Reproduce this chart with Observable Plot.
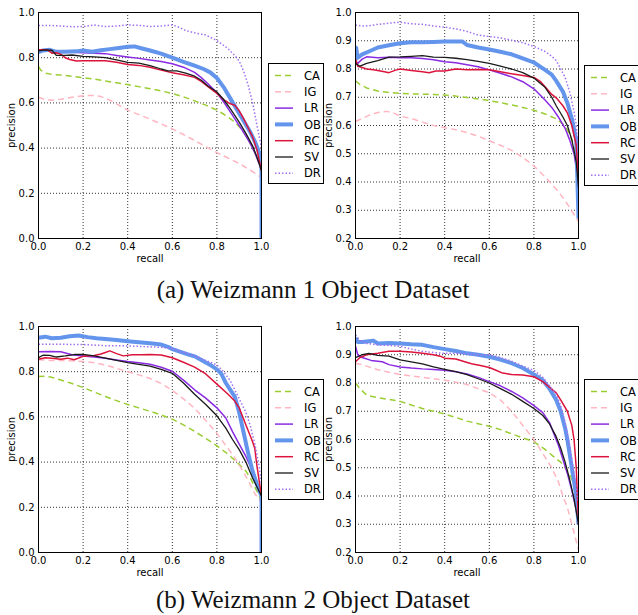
<!DOCTYPE html>
<html><head><meta charset="utf-8">
<script src="https://cdn.jsdelivr.net/npm/d3@7"></script>
<script src="https://cdn.jsdelivr.net/npm/@observablehq/plot@0.6"></script>
<style>
body{margin:0;background:#fff;}
#root{position:relative;width:638px;height:615px;overflow:hidden;background:#fff;}
.panel{position:absolute;}
.legend{position:absolute;background:#fff;border:1px solid #000;box-sizing:border-box;}
.cap{position:absolute;left:-6px;width:638px;text-align:center;font-family:"Liberation Serif","Times New Roman",serif;font-size:25px;line-height:28px;color:#111;}
</style></head>
<body><div id="root"></div>
<script>
// ---- series names & styles ----
const methods = ["CA","IG","LR","OB","RC","SV","DR"];
const colors = ["#9acd32","#ffb6c1","#8a2be2","#6495ed","#dc143c","#1a1a1a","#a070f0"];
const xTicks = [0,0.2,0.4,0.6,0.8,1.0];
const yTicksFull = [0,0.2,0.4,0.6,0.8,1.0];
const yTicksHigh = [0.2,0.3,0.4,0.5,0.6,0.7,0.8,0.9,1.0];
const captions = ["(a) Weizmann 1 Object Dataset","(b) Weizmann 2 Object Dataset"];

// ---- Weizmann 1, left panel: [recall, precision] ----
const w1a_CA = [[0,0.76],[0.01,0.745],[0.03,0.732],[0.06,0.726],[0.1,0.723],[0.15,0.718],[0.2,0.712],[0.25,0.705],[0.3,0.697],[0.35,0.689],[0.4,0.681],[0.45,0.672],[0.5,0.663],[0.55,0.653],[0.6,0.642],[0.65,0.627],[0.7,0.609],[0.75,0.59],[0.8,0.568],[0.85,0.538],[0.88,0.515],[0.9,0.495],[0.93,0.455],[0.95,0.42],[0.97,0.38],[0.99,0.33],[1.0,0.3]];
const w1a_IG = [[0,0.625],[0.03,0.615],[0.06,0.612],[0.1,0.616],[0.15,0.625],[0.2,0.632],[0.25,0.633],[0.28,0.628],[0.32,0.612],[0.36,0.59],[0.4,0.568],[0.45,0.548],[0.5,0.528],[0.55,0.507],[0.6,0.485],[0.65,0.46],[0.7,0.434],[0.75,0.406],[0.8,0.38],[0.85,0.356],[0.9,0.332],[0.95,0.302],[1.0,0.27]];
const w1a_LR = [[0,0.832],[0.03,0.835],[0.06,0.828],[0.1,0.826],[0.15,0.824],[0.2,0.822],[0.25,0.82],[0.3,0.818],[0.35,0.81],[0.4,0.803],[0.45,0.797],[0.5,0.79],[0.55,0.783],[0.6,0.773],[0.65,0.758],[0.7,0.735],[0.73,0.712],[0.76,0.685],[0.8,0.645],[0.83,0.605],[0.86,0.56],[0.89,0.515],[0.92,0.47],[0.95,0.42],[0.97,0.38],[0.99,0.33],[1.0,0.3],[1.0,0.28]];
const w1a_OB = [[0,0.825],[0.02,0.832],[0.05,0.835],[0.08,0.826],[0.12,0.826],[0.17,0.828],[0.2,0.832],[0.24,0.826],[0.28,0.833],[0.32,0.838],[0.36,0.843],[0.4,0.848],[0.43,0.85],[0.46,0.842],[0.5,0.832],[0.55,0.818],[0.6,0.8],[0.65,0.782],[0.7,0.765],[0.74,0.75],[0.77,0.735],[0.8,0.71],[0.83,0.67],[0.86,0.62],[0.89,0.57],[0.92,0.52],[0.95,0.47],[0.97,0.43],[0.99,0.38],[1.0,0.35],[1.0,0.0]];
const w1a_RC = [[0,0.835],[0.04,0.835],[0.06,0.82],[0.08,0.822],[0.1,0.815],[0.12,0.8],[0.14,0.792],[0.17,0.785],[0.2,0.787],[0.25,0.786],[0.3,0.786],[0.35,0.78],[0.4,0.77],[0.45,0.766],[0.5,0.758],[0.55,0.745],[0.6,0.733],[0.65,0.725],[0.7,0.713],[0.73,0.695],[0.76,0.672],[0.8,0.642],[0.83,0.615],[0.86,0.596],[0.88,0.59],[0.9,0.565],[0.92,0.53],[0.94,0.49],[0.96,0.45],[0.98,0.39],[1.0,0.3]];
const w1a_SV = [[0,0.83],[0.03,0.835],[0.06,0.833],[0.08,0.81],[0.12,0.81],[0.15,0.812],[0.2,0.806],[0.25,0.804],[0.3,0.8],[0.35,0.79],[0.4,0.779],[0.45,0.776],[0.5,0.765],[0.55,0.75],[0.58,0.742],[0.62,0.742],[0.66,0.732],[0.7,0.718],[0.73,0.7],[0.76,0.675],[0.8,0.648],[0.83,0.615],[0.86,0.575],[0.9,0.515],[0.93,0.465],[0.96,0.41],[0.98,0.36],[1.0,0.3],[1.0,0.28]];
const w1a_DR = [[0,0.942],[0.05,0.943],[0.1,0.94],[0.15,0.937],[0.2,0.938],[0.25,0.945],[0.3,0.938],[0.35,0.94],[0.4,0.945],[0.45,0.943],[0.5,0.938],[0.55,0.94],[0.6,0.945],[0.63,0.935],[0.66,0.92],[0.7,0.91],[0.75,0.9],[0.8,0.876],[0.85,0.84],[0.88,0.81],[0.9,0.785],[0.92,0.74],[0.94,0.68],[0.96,0.6],[0.98,0.5],[1.0,0.4]];

// ---- Weizmann 1, right panel ----
const w1b_CA = [[0,0.758],[0.02,0.745],[0.05,0.733],[0.1,0.722],[0.15,0.717],[0.2,0.714],[0.25,0.712],[0.3,0.711],[0.35,0.71],[0.4,0.708],[0.45,0.704],[0.5,0.699],[0.55,0.694],[0.6,0.688],[0.65,0.681],[0.7,0.673],[0.75,0.664],[0.8,0.654],[0.85,0.641],[0.9,0.624],[0.93,0.605],[0.95,0.585],[0.97,0.55],[0.99,0.49],[1.0,0.43]];
const w1b_IG = [[0,0.614],[0.03,0.625],[0.06,0.636],[0.1,0.646],[0.14,0.65],[0.17,0.645],[0.2,0.633],[0.25,0.625],[0.3,0.612],[0.35,0.6],[0.4,0.592],[0.45,0.585],[0.5,0.575],[0.55,0.562],[0.6,0.546],[0.65,0.53],[0.7,0.512],[0.75,0.487],[0.8,0.457],[0.85,0.418],[0.9,0.375],[0.93,0.345],[0.96,0.31],[0.98,0.285],[1.0,0.26]];
const w1b_LR = [[0,0.83],[0.01,0.82],[0.03,0.835],[0.05,0.843],[0.1,0.84],[0.15,0.842],[0.2,0.84],[0.25,0.84],[0.3,0.837],[0.35,0.833],[0.4,0.826],[0.45,0.822],[0.5,0.815],[0.55,0.808],[0.6,0.797],[0.65,0.785],[0.7,0.772],[0.75,0.755],[0.8,0.73],[0.85,0.69],[0.88,0.664],[0.91,0.63],[0.94,0.59],[0.96,0.55],[0.98,0.5],[0.99,0.45],[1.0,0.38]];
const w1b_OB = [[0,0.83],[0.003,0.875],[0.01,0.84],[0.03,0.852],[0.06,0.862],[0.1,0.876],[0.15,0.884],[0.2,0.891],[0.25,0.895],[0.3,0.895],[0.35,0.896],[0.4,0.897],[0.45,0.897],[0.48,0.897],[0.5,0.885],[0.55,0.876],[0.6,0.869],[0.65,0.861],[0.7,0.852],[0.75,0.838],[0.8,0.823],[0.85,0.797],[0.88,0.78],[0.9,0.758],[0.93,0.72],[0.95,0.68],[0.97,0.625],[0.99,0.55],[1.0,0.27]];
const w1b_RC = [[0,0.835],[0.01,0.81],[0.03,0.805],[0.05,0.8],[0.08,0.797],[0.1,0.795],[0.13,0.79],[0.15,0.787],[0.18,0.796],[0.2,0.8],[0.25,0.795],[0.3,0.79],[0.33,0.787],[0.36,0.793],[0.4,0.793],[0.45,0.8],[0.5,0.797],[0.55,0.798],[0.6,0.797],[0.65,0.79],[0.7,0.783],[0.75,0.777],[0.8,0.77],[0.83,0.755],[0.86,0.728],[0.88,0.71],[0.9,0.698],[0.93,0.67],[0.95,0.645],[0.97,0.6],[0.99,0.53],[1.0,0.4]];
const w1b_SV = [[0,0.82],[0.02,0.81],[0.05,0.82],[0.1,0.83],[0.15,0.842],[0.2,0.843],[0.25,0.845],[0.3,0.847],[0.35,0.842],[0.4,0.841],[0.45,0.838],[0.5,0.833],[0.55,0.827],[0.6,0.82],[0.65,0.81],[0.7,0.8],[0.75,0.787],[0.8,0.768],[0.85,0.735],[0.88,0.7],[0.9,0.67],[0.93,0.63],[0.95,0.6],[0.97,0.55],[0.99,0.47],[1.0,0.38]];
const w1b_DR = [[0,0.956],[0.03,0.952],[0.06,0.953],[0.1,0.958],[0.15,0.962],[0.2,0.966],[0.25,0.96],[0.3,0.958],[0.35,0.952],[0.4,0.948],[0.45,0.942],[0.5,0.933],[0.55,0.92],[0.6,0.915],[0.65,0.91],[0.7,0.902],[0.75,0.893],[0.8,0.88],[0.85,0.862],[0.88,0.845],[0.9,0.83],[0.92,0.8],[0.94,0.77],[0.96,0.72],[0.98,0.65],[0.99,0.6],[1.0,0.5]];

// ---- Weizmann 2, left panel ----
const w2a_CA = [[0,0.779],[0.03,0.78],[0.06,0.775],[0.1,0.763],[0.15,0.748],[0.2,0.73],[0.25,0.71],[0.3,0.69],[0.35,0.672],[0.4,0.655],[0.45,0.64],[0.5,0.625],[0.55,0.609],[0.6,0.59],[0.65,0.565],[0.7,0.536],[0.75,0.505],[0.8,0.472],[0.85,0.435],[0.9,0.39],[0.93,0.36],[0.95,0.33],[0.97,0.29],[0.99,0.25],[1.0,0.22]];
const w2a_IG = [[0,0.853],[0.05,0.85],[0.1,0.85],[0.15,0.848],[0.2,0.845],[0.25,0.84],[0.3,0.83],[0.35,0.815],[0.4,0.8],[0.45,0.786],[0.5,0.77],[0.55,0.748],[0.6,0.717],[0.65,0.68],[0.7,0.638],[0.75,0.585],[0.8,0.527],[0.85,0.46],[0.88,0.42],[0.91,0.37],[0.94,0.32],[0.97,0.26],[1.0,0.22]];
const w2a_LR = [[0,0.888],[0.05,0.889],[0.1,0.888],[0.15,0.875],[0.2,0.87],[0.25,0.865],[0.3,0.86],[0.35,0.852],[0.4,0.845],[0.45,0.84],[0.5,0.833],[0.55,0.82],[0.6,0.802],[0.65,0.763],[0.7,0.72],[0.75,0.683],[0.8,0.64],[0.84,0.595],[0.87,0.535],[0.9,0.48],[0.93,0.425],[0.96,0.36],[0.98,0.31],[1.0,0.24]];
const w2a_OB = [[0,0.95],[0.03,0.955],[0.06,0.948],[0.1,0.95],[0.14,0.957],[0.18,0.96],[0.22,0.953],[0.26,0.948],[0.3,0.945],[0.35,0.94],[0.4,0.935],[0.45,0.93],[0.5,0.926],[0.55,0.92],[0.58,0.91],[0.6,0.9],[0.63,0.89],[0.67,0.877],[0.7,0.868],[0.73,0.852],[0.77,0.83],[0.8,0.81],[0.82,0.79],[0.84,0.75],[0.86,0.72],[0.88,0.69],[0.9,0.62],[0.92,0.53],[0.94,0.44],[0.96,0.36],[0.98,0.3],[1.0,0.25],[1.0,0.0]];
const w2a_RC = [[0,0.855],[0.03,0.862],[0.06,0.86],[0.1,0.855],[0.13,0.86],[0.16,0.853],[0.2,0.868],[0.25,0.872],[0.28,0.878],[0.3,0.885],[0.32,0.892],[0.35,0.88],[0.38,0.87],[0.42,0.875],[0.46,0.875],[0.5,0.876],[0.55,0.874],[0.6,0.862],[0.65,0.842],[0.7,0.82],[0.75,0.79],[0.8,0.745],[0.85,0.7],[0.88,0.67],[0.9,0.64],[0.92,0.59],[0.94,0.54],[0.96,0.49],[0.97,0.46],[0.98,0.38],[1.0,0.25]];
const w2a_SV = [[0,0.862],[0.02,0.873],[0.05,0.872],[0.08,0.865],[0.12,0.87],[0.16,0.876],[0.2,0.877],[0.25,0.87],[0.3,0.86],[0.35,0.85],[0.4,0.84],[0.45,0.832],[0.5,0.825],[0.55,0.81],[0.6,0.793],[0.65,0.75],[0.7,0.7],[0.75,0.655],[0.8,0.605],[0.84,0.55],[0.87,0.5],[0.9,0.455],[0.93,0.4],[0.96,0.33],[0.98,0.29],[1.0,0.25]];
const w2a_DR = [[0,0.922],[0.05,0.922],[0.1,0.922],[0.15,0.92],[0.2,0.92],[0.25,0.918],[0.3,0.915],[0.35,0.915],[0.4,0.914],[0.45,0.912],[0.5,0.91],[0.55,0.908],[0.6,0.903],[0.65,0.885],[0.7,0.87],[0.75,0.85],[0.8,0.83],[0.83,0.8],[0.86,0.76],[0.88,0.72],[0.9,0.68],[0.93,0.62],[0.95,0.56],[0.97,0.48],[0.99,0.38],[1.0,0.3]];

// ---- Weizmann 2, right panel ----
const w2b_CA = [[0,0.8],[0.02,0.78],[0.05,0.757],[0.1,0.748],[0.15,0.742],[0.2,0.735],[0.25,0.722],[0.3,0.71],[0.35,0.7],[0.4,0.69],[0.45,0.678],[0.5,0.665],[0.55,0.656],[0.6,0.647],[0.65,0.635],[0.7,0.62],[0.75,0.606],[0.8,0.592],[0.85,0.565],[0.88,0.545],[0.92,0.52],[0.95,0.49],[0.97,0.46],[0.99,0.42],[1.0,0.4]];
const w2b_IG = [[0,0.87],[0.03,0.865],[0.06,0.857],[0.1,0.847],[0.15,0.838],[0.2,0.83],[0.25,0.825],[0.3,0.82],[0.35,0.815],[0.4,0.81],[0.45,0.803],[0.5,0.795],[0.55,0.78],[0.6,0.765],[0.65,0.74],[0.7,0.7],[0.75,0.65],[0.8,0.6],[0.84,0.55],[0.88,0.5],[0.91,0.45],[0.93,0.4],[0.95,0.36],[0.97,0.3],[0.99,0.24],[1.0,0.21]];
const w2b_LR = [[0,0.93],[0.01,0.9],[0.03,0.89],[0.07,0.88],[0.12,0.875],[0.15,0.865],[0.2,0.857],[0.25,0.853],[0.3,0.85],[0.35,0.848],[0.4,0.845],[0.45,0.84],[0.5,0.832],[0.55,0.82],[0.6,0.805],[0.65,0.79],[0.7,0.77],[0.75,0.747],[0.8,0.72],[0.84,0.695],[0.87,0.66],[0.89,0.62],[0.91,0.58],[0.93,0.53],[0.95,0.48],[0.97,0.42],[0.99,0.35],[1.0,0.3]];
const w2b_OB = [[0,0.96],[0.01,0.945],[0.03,0.945],[0.06,0.948],[0.08,0.95],[0.1,0.94],[0.15,0.942],[0.2,0.94],[0.25,0.937],[0.3,0.935],[0.35,0.927],[0.4,0.92],[0.45,0.913],[0.5,0.905],[0.55,0.9],[0.6,0.893],[0.65,0.883],[0.7,0.87],[0.75,0.853],[0.8,0.83],[0.84,0.81],[0.87,0.78],[0.9,0.74],[0.92,0.7],[0.94,0.64],[0.95,0.6],[0.97,0.5],[0.99,0.4],[1.0,0.3]];
const w2b_RC = [[0,0.875],[0.02,0.89],[0.05,0.9],[0.1,0.905],[0.15,0.912],[0.2,0.912],[0.25,0.91],[0.3,0.905],[0.35,0.9],[0.38,0.895],[0.4,0.888],[0.45,0.885],[0.49,0.875],[0.52,0.868],[0.56,0.862],[0.6,0.855],[0.63,0.845],[0.66,0.835],[0.7,0.83],[0.75,0.828],[0.8,0.822],[0.84,0.805],[0.87,0.785],[0.9,0.765],[0.92,0.74],[0.95,0.7],[0.97,0.65],[0.98,0.6],[0.99,0.5],[1.0,0.3]];
const w2b_SV = [[0,0.89],[0.03,0.9],[0.06,0.905],[0.1,0.898],[0.15,0.895],[0.2,0.882],[0.25,0.875],[0.3,0.868],[0.35,0.857],[0.4,0.848],[0.45,0.84],[0.5,0.83],[0.55,0.815],[0.6,0.8],[0.65,0.78],[0.7,0.76],[0.75,0.735],[0.8,0.71],[0.84,0.685],[0.87,0.655],[0.9,0.61],[0.92,0.57],[0.94,0.52],[0.96,0.46],[0.98,0.39],[1.0,0.3]];
const w2b_DR = [[0,0.97],[0.02,0.95],[0.05,0.94],[0.1,0.935],[0.15,0.933],[0.2,0.93],[0.25,0.92],[0.3,0.912],[0.35,0.908],[0.4,0.905],[0.45,0.905],[0.5,0.903],[0.55,0.9],[0.6,0.9],[0.65,0.89],[0.7,0.877],[0.75,0.86],[0.8,0.845],[0.84,0.82],[0.87,0.79],[0.9,0.76],[0.92,0.72],[0.94,0.66],[0.96,0.58],[0.98,0.48],[1.0,0.38]];

// ---- styling (not data) ----
const styleOf = {
  CA:{w:1.5,dash:"6,4"}, IG:{w:1.5,dash:"6,4"}, LR:{w:1.5,dash:null},
  OB:{w:4,dash:null}, RC:{w:1.5,dash:null}, SV:{w:1.3,dash:null}, DR:{w:1.5,dash:"1.5,2"}
};
const root = document.getElementById("root");

function panel(series, left, top, width, mL, mR, yDomain, yTicks){
  const marks = [
    Plot.gridX(xTicks,{stroke:"#000",strokeOpacity:1,strokeDasharray:"1,2",strokeWidth:0.8}),
    Plot.gridY(yTicks,{stroke:"#000",strokeOpacity:1,strokeDasharray:"1,2",strokeWidth:0.8})
  ];
  methods.forEach((m,i)=>{
    const s = styleOf[m];
    marks.push(Plot.line(series[i],{x:d=>d[0],y:d=>d[1],stroke:colors[i],strokeWidth:s.w,
      strokeDasharray:s.dash||undefined,clip:true,strokeLinejoin:"round",strokeLinecap:"butt"}));
  });
  marks.push(Plot.frame({stroke:"#000",strokeWidth:1}));
  marks.push(Plot.axisX(xTicks,{tickSize:0,tickPadding:4,tickFormat:d3.format(".1f"),label:"recall",labelAnchor:"center",labelArrow:"none",labelOffset:23,fontSize:10}));
  marks.push(Plot.axisY(yTicks,{tickSize:0,tickPadding:4,tickFormat:d3.format(".1f"),label:"precision",labelAnchor:"center",labelArrow:"none",labelOffset:31,fontSize:10}));
  const svg = Plot.plot({
    width, height:270, marginLeft:mL, marginRight:mR, marginTop:12, marginBottom:32,
    style:{fontFamily:"'DejaVu Sans', sans-serif",fontSize:"10px",background:"transparent",color:"#000",overflow:"visible"},
    x:{domain:[0,1]}, y:{domain:yDomain},
    marks
  });
  svg.classList.add("panel");
  svg.style.left = left+"px"; svg.style.top = top+"px";
  root.appendChild(svg);
}

function legend(left, top){
  const div = document.createElement("div");
  div.className = "legend";
  div.style.left = left+"px"; div.style.top = top+"px";
  div.style.width = "56px"; div.style.height = "121px";
  const ns = "http://www.w3.org/2000/svg";
  const svg = document.createElementNS(ns,"svg");
  svg.setAttribute("width",56); svg.setAttribute("height",121);
  svg.style.display="block";
  methods.forEach((m,i)=>{
    const y = 11.5 + i*16.3;
    const s = styleOf[m];
    const ln = document.createElementNS(ns,"line");
    ln.setAttribute("x1",6); ln.setAttribute("x2",24); ln.setAttribute("y1",y); ln.setAttribute("y2",y);
    ln.setAttribute("stroke",colors[i]); ln.setAttribute("stroke-width",s.w);
    if (s.dash) ln.setAttribute("stroke-dasharray",s.dash);
    svg.appendChild(ln);
    const t = document.createElementNS(ns,"text");
    t.setAttribute("x",35); t.setAttribute("y",y); t.setAttribute("dy","0.36em");
    t.setAttribute("font-family","'DejaVu Sans', sans-serif"); t.setAttribute("font-size","11.5");
    t.textContent = m;
    svg.appendChild(t);
  });
  div.appendChild(svg);
  root.appendChild(div);
}

panel([w1a_CA,w1a_IG,w1a_LR,w1a_OB,w1a_RC,w1a_SV,w1a_DR], 0, 0, 268, 38, 7, [0,1], yTicksFull);
panel([w1b_CA,w1b_IG,w1b_LR,w1b_OB,w1b_RC,w1b_SV,w1b_DR], 320, 0, 264, 35, 6, [0.2,1], yTicksHigh);
panel([w2a_CA,w2a_IG,w2a_LR,w2a_OB,w2a_RC,w2a_SV,w2a_DR], 0, 314, 268, 38, 7, [0,1], yTicksFull);
panel([w2b_CA,w2b_IG,w2b_LR,w2b_OB,w2b_RC,w2b_SV,w2b_DR], 320, 314, 264, 35, 6, [0.2,1], yTicksHigh);
legend(268, 63); legend(584, 65); legend(268, 379); legend(584, 379);

captions.forEach((c,i)=>{
  const d = document.createElement("div");
  d.className = "cap"; d.textContent = c;
  d.style.top = (i===0 ? 276 : 586)+"px";
  root.appendChild(d);
});
</script></body></html>
